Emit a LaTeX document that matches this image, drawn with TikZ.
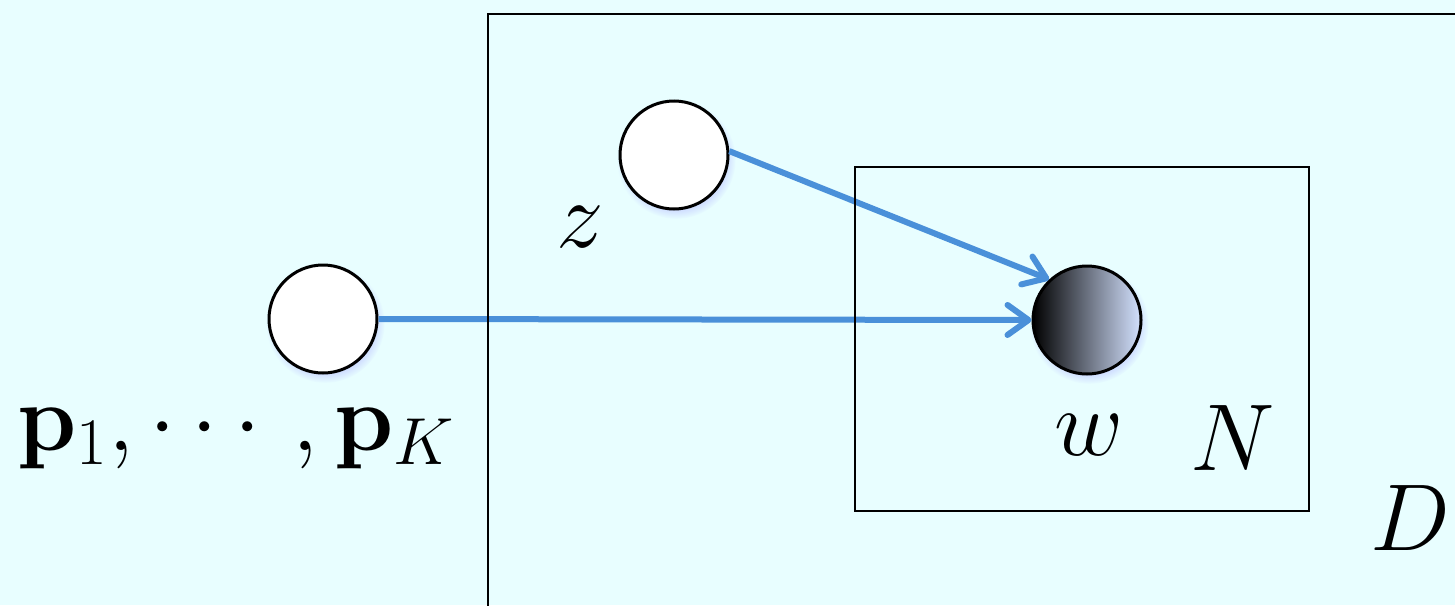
\RequirePackage{fix-cm}
\documentclass[tikz,border=0pt]{standalone}
\usepackage{amsmath}
\usetikzlibrary{arrows.meta,shadows}
\definecolor{bg}{RGB}{232,254,255}
\definecolor{arr}{RGB}{74,144,217}
\definecolor{wlight}{RGB}{212,226,255}
\definecolor{wmid}{RGB}{122,134,158}
\begin{document}
\begin{tikzpicture}[x=0.5pt,y=-0.5pt,
  var/.style={circle, draw=black, line width=1.5pt, fill=white, minimum size=54pt, inner sep=0pt,
    circular drop shadow={shadow xshift=1pt, shadow yshift=-2pt, fill=blue!35, opacity=0.35}},
  obs/.style={var, left color=black, middle color=wmid, right color=wlight},
  plate/.style={draw=black, line width=1pt},
  edge/.style={draw=arr, line width=3pt, -{Straight Barb[length=10.5pt,width=15pt,line width=3pt,round]}},
  lab/.style={font=\fontsize{47.5}{57}\selectfont, inner sep=0pt}]
\fill[bg] (0,0) rectangle (1455,605);
\useasboundingbox (0,0) rectangle (1455,605);
\clip (0,0) rectangle (1455,605);
\node[var] (p) at (323,319) {};
\node[var] (z) at (674,155) {};
\node[obs] (w) at (1087,320) {};
\node[lab, anchor=base] (plab) at (236,450) {$\mathbf{p}_1,\cdots,\mathbf{p}_K$};
\node[lab, anchor=base] (zlab) at (580,247) {$z$};
\node[lab, anchor=base] (wlab) at (1089,455) {$w$};
\node[lab, anchor=base] (Nlab) at (1233,470) {$N$};
\node[lab, anchor=base] (Dlab) at (1410,550) {$D$};
\draw[edge] (p.east) -- (w.west);
\draw[edge] (z.4) -- (w.133);
\draw[plate] (488,14) rectangle (1600,700);
\draw[plate] (855,167) rectangle (1309,511);
\end{tikzpicture}
\end{document}
